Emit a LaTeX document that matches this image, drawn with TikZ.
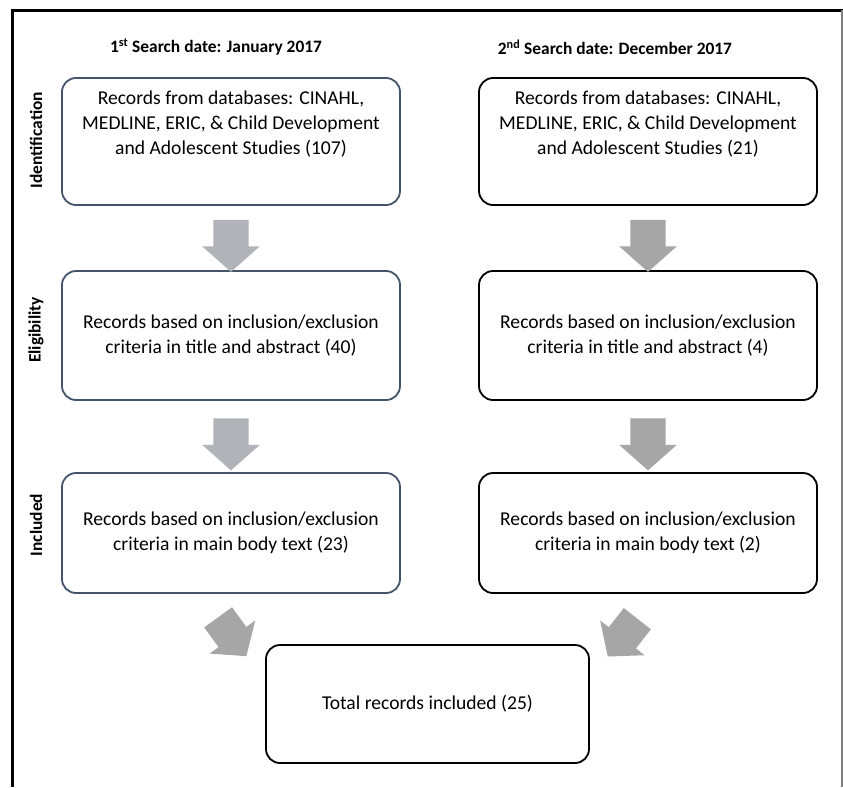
\documentclass[tikz,border=0pt]{standalone}
\usepackage{fontspec}
\setmainfont{Carlito}
\usetikzlibrary{shapes.arrows,calc}
\definecolor{boxblue}{HTML}{44546A}
\definecolor{arrowblue}{HTML}{B0B3B8}
\definecolor{arrowgrey}{HTML}{A6A6A6}
\begin{document}
\begin{tikzpicture}[x=1pt,y=-1pt,
 box/.style={draw, rounded corners=14pt, line width=1.8pt, minimum width=338pt, inner sep=0pt},
 lbox/.style={box, draw=boxblue},
 rbox/.style={box, draw=black},
 txt/.style={font=\fontsize{19.6}{25}\selectfont, align=center},
 hdr/.style={font=\fontsize{17.4}{20}\selectfont\bfseries},
 side/.style={font=\fontsize{17.4}{20}\selectfont\bfseries, rotate=90},
 blockarrow/.style={single arrow, draw=none, fill=#1, minimum height=52pt,
   inner xsep=0pt, inner ysep=17.5pt,
   single arrow head extend=11pt, single arrow tip angle=97},
 diagarrow/.style={single arrow, draw=none, fill=arrowgrey, minimum height=48pt,
   inner xsep=0pt, inner ysep=17pt,
   single arrow head extend=11pt, single arrow tip angle=100},
]
\useasboundingbox (0,0) rectangle (843,787);
% frame
\draw[line width=3pt] (12,787) -- (12,10) -- (843,10);
\draw[gray, line width=1.5pt] (842,10) -- (842,787);

% headers
\node[hdr] (h1) at (216,47) {1\textsuperscript{st} Search date: January 2017};
\node[hdr] (h2) at (615,47) {2\textsuperscript{nd} Search date: December 2017};

% side labels
\node[side] (s1) at (36,140) {Identification};
\node[side] (s2) at (36,330) {Eligibility};
\node[side] (s3) at (36,525) {Included};

% left column
\node[lbox, minimum height=127pt] (l1) at (231,141.5) {};
\node[txt] (t1) at ($(l1.center)+(0,-17)$) {Records from databases: CINAHL,\\MEDLINE, ERIC, \& Child Development\\and Adolescent Studies (107)};
\node[lbox, minimum height=129pt, txt] (l2) at (231,335.5) {Records based on inclusion/exclusion\\criteria in title and abstract (40)};
\node[lbox, minimum height=120pt, txt] (l3) at (231,533) {Records based on inclusion/exclusion\\criteria in main body text (23)};

% right column
\node[rbox, minimum height=127pt] (r1) at (648,141.5) {};
\node[txt] (t2) at ($(r1.center)+(0,-17)$) {Records from databases: CINAHL,\\MEDLINE, ERIC, \& Child Development\\and Adolescent Studies (21)};
\node[rbox, minimum height=129pt, txt] (r2) at (648,335.5) {Records based on inclusion/exclusion\\criteria in title and abstract (4)};
\node[rbox, minimum height=120pt, txt] (r3) at (648,533) {Records based on inclusion/exclusion\\criteria in main body text (2)};

% total
\node[box, draw=black, minimum width=323pt, minimum height=118pt, txt] (tot) at (427.5,704) {Total records included (25)};

% vertical arrows
\path (l1.south) -- node[blockarrow=arrowblue, rotate=-90] (a1) {} (l2.north);
\path (l2.south) -- node[blockarrow=arrowblue, rotate=-90] (a2) {} (l3.north);
\path (r1.south) -- node[blockarrow=arrowgrey, rotate=-90] (a3) {} (r2.north);
\path (r2.south) -- node[blockarrow=arrowgrey, rotate=-90] (a4) {} (r3.north);

% diagonal arrows
\node[diagarrow, rotate=-54] (d1) at ($(l3.south)+(-3,37)$) {};
\node[diagarrow, rotate=-128] (d2) at ($(r3.south)+(-21,38)$) {};
\end{tikzpicture}
\end{document}
